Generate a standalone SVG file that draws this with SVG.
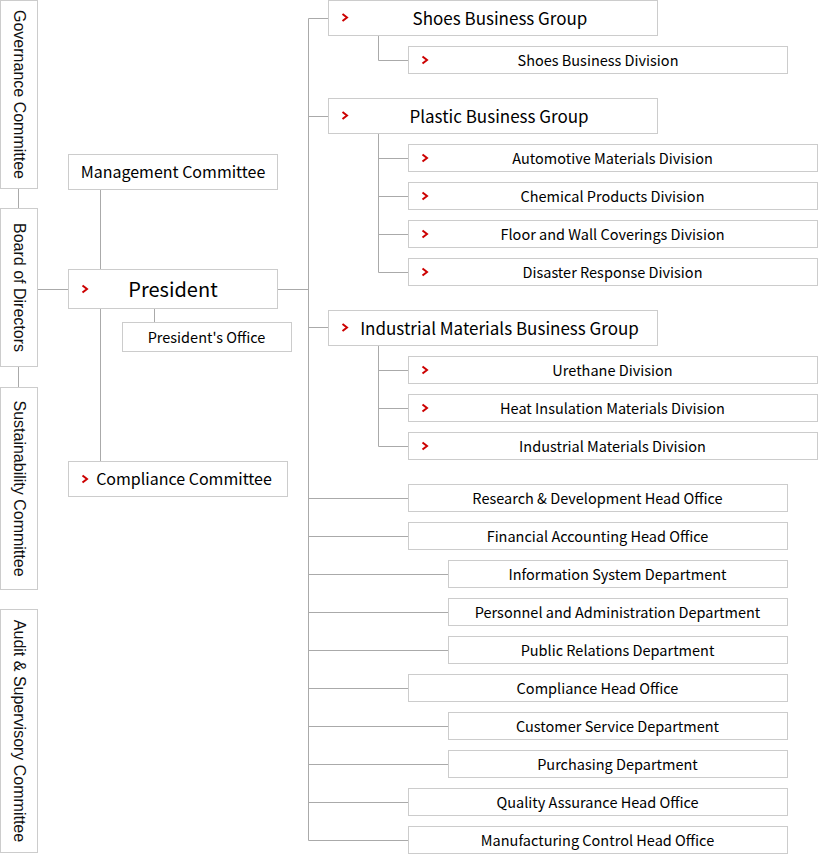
<svg xmlns="http://www.w3.org/2000/svg" width="818" height="854" viewBox="0 0 818 854">
<style>
.box{fill:#fff;stroke:#cccccc;stroke-width:1}
.ln{fill:none;stroke:#aaaaaa;stroke-width:1}
.t{font-family:"Noto Sans CJK JP","Noto Sans",sans-serif;fill:#000;text-anchor:middle;dominant-baseline:central}
.v{font-family:"Liberation Sans",Arial,sans-serif;font-size:16px;fill:#111;text-anchor:middle;dominant-baseline:central}
.g{font-size:17px}
.d{font-size:14.5px}
.m{font-size:16px}
.p{font-size:20px}
.chev{fill:none;stroke:#cc0000;stroke-width:2}
</style>
<defs>
<path id="ch" class="chev" d="M-2.5,-3.5 L2,0 L-2.5,3.5"/>
</defs>
<g id="connectors">
<path class="ln" d="M18.5,189 V208 M18.5,367 V387"/>
<path class="ln" d="M38,289.5 H68 M100.5,190 V269 M100.5,309 V461 M154.5,309 V322 M278,289.5 H308.5"/>
<path class="ln" d="M308.5,18.5 V840.5"/>
<path class="ln" d="M308.5,18.5 H328 M308.5,116.5 H328 M308.5,327.5 H328"/>
<path class="ln" d="M378.5,36 V60.5 H408"/>
<path class="ln" d="M378.5,134 V272.5 M378.5,158.5 H408 M378.5,196.5 H408 M378.5,234.5 H408 M378.5,272.5 H408"/>
<path class="ln" d="M378.5,346 V446.5 M378.5,370.5 H408 M378.5,408.5 H408 M378.5,446.5 H408"/>
<path class="ln" d="M308.5,498.5 H408 M308.5,536.5 H408 M308.5,574.5 H448 M308.5,612.5 H448 M308.5,650.5 H448 M308.5,688.5 H408 M308.5,726.5 H448 M308.5,764.5 H448 M308.5,802.5 H408 M308.5,840.5 H408"/>
</g>
<g id="governance"><rect class="box" x="0.5" y="0.5" width="37" height="188"/><text class="v" transform="translate(19,94.5) rotate(90)">Governance Committee</text></g>
<g id="board"><rect class="box" x="0.5" y="208.5" width="37" height="158"/><text class="v" transform="translate(19,287.5) rotate(90)">Board of Directors</text></g>
<g id="sustainability"><rect class="box" x="0.5" y="387.5" width="37" height="202"/><text class="v" transform="translate(19,488.5) rotate(90)">Sustainability Committee</text></g>
<g id="audit"><rect class="box" x="0.5" y="609.5" width="37" height="243"/><text class="v" transform="translate(19,731) rotate(90)">Audit &amp; Supervisory Committee</text></g>
<g id="management"><rect class="box" x="68.5" y="154.5" width="209" height="35"/><text class="t m" x="173" y="171">Management Committee</text></g>
<g id="president"><rect class="box" x="68.5" y="269.5" width="209" height="39"/><use href="#ch" x="85" y="289"/><text class="t p" x="173" y="288">President</text></g>
<g id="presidents-office"><rect class="box" x="122.5" y="322.5" width="169" height="29"/><text class="t d" x="206.5" y="336">President's Office</text></g>
<g id="compliance-committee"><rect class="box" x="68.5" y="461.5" width="219" height="35"/><use href="#ch" x="85" y="479"/><text class="t m" x="184" y="478">Compliance Committee</text></g>
<g id="shoes-group"><rect class="box" x="328.5" y="0.5" width="329" height="35"/><use href="#ch" x="345" y="17.5"/><text class="t g" x="500" y="17">Shoes Business Group</text></g>
<g id="shoes-division"><rect class="box" x="408.5" y="46.5" width="379" height="27"/><use href="#ch" x="425" y="60"/><text class="t d" x="598" y="59.5">Shoes Business Division</text></g>
<g id="plastic-group"><rect class="box" x="328.5" y="98.5" width="329" height="35"/><use href="#ch" x="345" y="115.5"/><text class="t g" x="499" y="115">Plastic Business Group</text></g>
<g id="automotive"><rect class="box" x="408.5" y="144.5" width="409" height="27"/><use href="#ch" x="425" y="158"/><text class="t d" x="612.5" y="157.5">Automotive Materials Division</text></g>
<g id="chemical"><rect class="box" x="408.5" y="182.5" width="409" height="27"/><use href="#ch" x="425" y="196"/><text class="t d" x="612.5" y="195.5">Chemical Products Division</text></g>
<g id="floor-wall"><rect class="box" x="408.5" y="220.5" width="409" height="27"/><use href="#ch" x="425" y="234"/><text class="t d" x="612.5" y="233.5">Floor and Wall Coverings Division</text></g>
<g id="disaster"><rect class="box" x="408.5" y="258.5" width="409" height="27"/><use href="#ch" x="425" y="272"/><text class="t d" x="612.5" y="271.5">Disaster Response Division</text></g>
<g id="industrial-group"><rect class="box" x="328.5" y="310.5" width="329" height="35"/><use href="#ch" x="345" y="327.5"/><text class="t g" x="499.5" y="327">Industrial Materials Business Group</text></g>
<g id="urethane"><rect class="box" x="408.5" y="356.5" width="409" height="27"/><use href="#ch" x="425" y="370"/><text class="t d" x="612.5" y="369.5">Urethane Division</text></g>
<g id="heat-insulation"><rect class="box" x="408.5" y="394.5" width="409" height="27"/><use href="#ch" x="425" y="408"/><text class="t d" x="612.5" y="407.5">Heat Insulation Materials Division</text></g>
<g id="industrial-division"><rect class="box" x="408.5" y="432.5" width="409" height="27"/><use href="#ch" x="425" y="446"/><text class="t d" x="612.5" y="445.5">Industrial Materials Division</text></g>
<g id="rd"><rect class="box" x="408.5" y="484.5" width="379" height="27"/><text class="t d" x="597.5" y="497.5">Research &amp; Development Head Office</text></g>
<g id="financial"><rect class="box" x="408.5" y="522.5" width="379" height="27"/><text class="t d" x="597.5" y="535.5">Financial Accounting Head Office</text></g>
<g id="info-system"><rect class="box" x="448.5" y="560.5" width="339" height="27"/><text class="t d" x="617.5" y="573.5">Information System Department</text></g>
<g id="personnel"><rect class="box" x="448.5" y="598.5" width="339" height="27"/><text class="t d" x="617.5" y="611.5">Personnel and Administration Department</text></g>
<g id="public-relations"><rect class="box" x="448.5" y="636.5" width="339" height="27"/><text class="t d" x="617.5" y="649.5">Public Relations Department</text></g>
<g id="compliance-office"><rect class="box" x="408.5" y="674.5" width="379" height="27"/><text class="t d" x="597.5" y="687.5">Compliance Head Office</text></g>
<g id="customer-service"><rect class="box" x="448.5" y="712.5" width="339" height="27"/><text class="t d" x="617.5" y="725.5">Customer Service Department</text></g>
<g id="purchasing"><rect class="box" x="448.5" y="750.5" width="339" height="27"/><text class="t d" x="617.5" y="763.5">Purchasing Department</text></g>
<g id="quality"><rect class="box" x="408.5" y="788.5" width="379" height="27"/><text class="t d" x="597.5" y="801.5">Quality Assurance Head Office</text></g>
<g id="manufacturing"><rect class="box" x="408.5" y="826.5" width="379" height="27"/><text class="t d" x="597.5" y="839.5">Manufacturing Control Head Office</text></g>
</svg>
